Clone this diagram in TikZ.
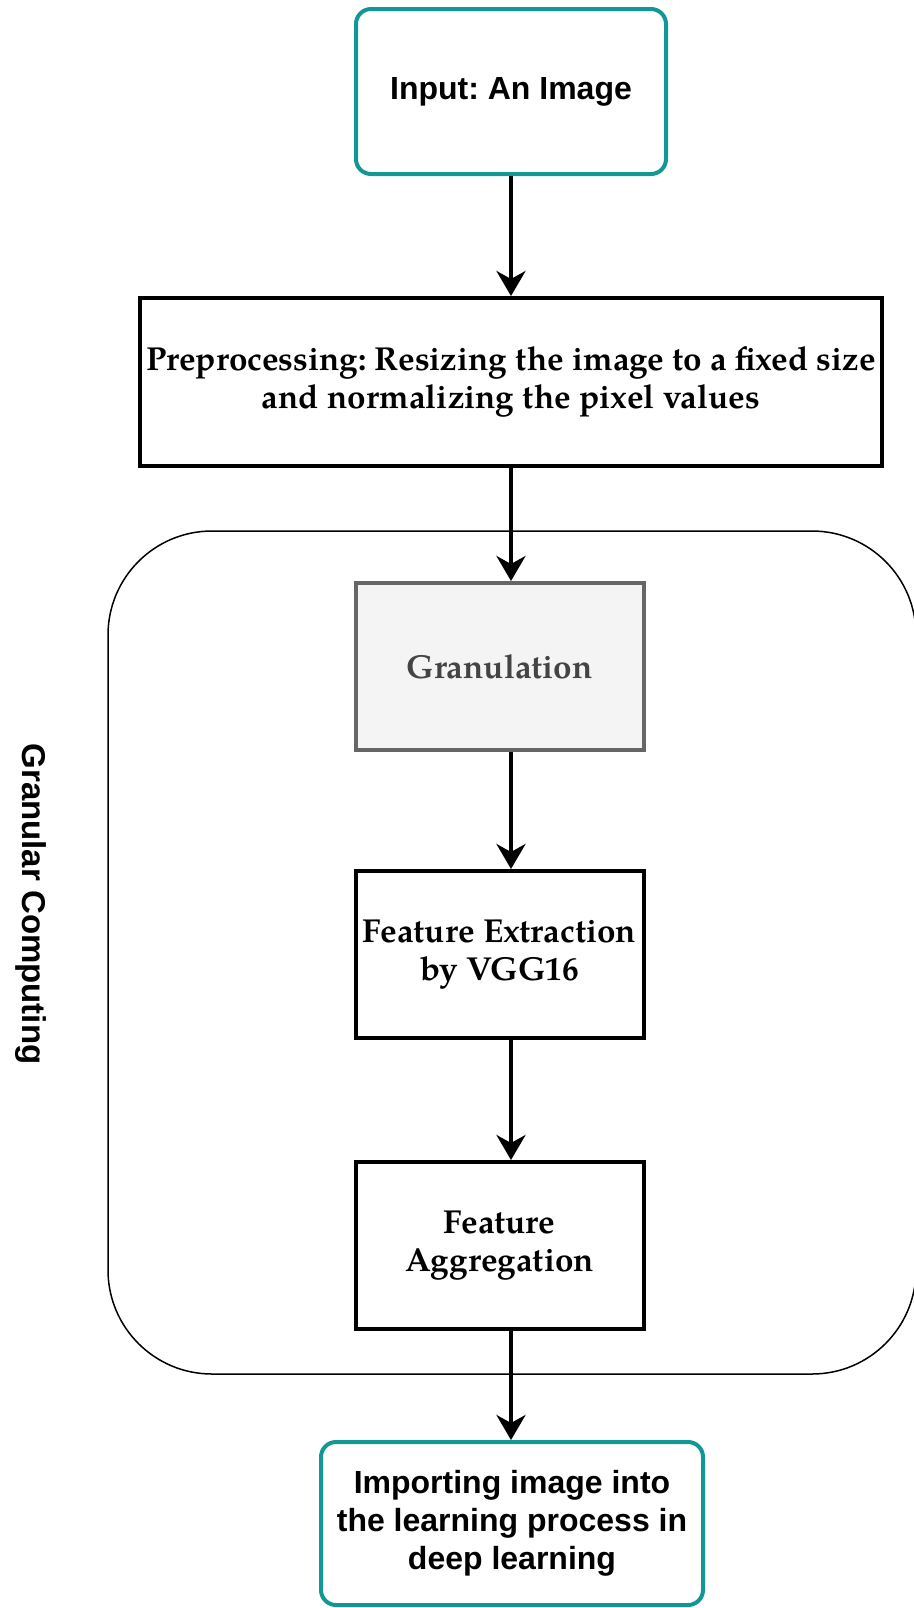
\documentclass[tikz,border=0pt]{standalone}
\usepackage{fontspec}
\usepackage{tikz}
\usetikzlibrary{arrows.meta, calc, positioning}
\usepackage{xcolor}
\newfontfamily\boxsans{Liberation Sans}
\newfontfamily\boxserif{texgyrepagella-bold.otf}
\definecolor{BoxTeal}{RGB}{18, 150, 150}
\definecolor{RichBlack}{RGB}{0, 0, 0}
\definecolor{GranFill}{RGB}{244, 244, 244}
\definecolor{GranDraw}{RGB}{102, 102, 102}
\definecolor{GranText}{RGB}{68, 68, 68}
\frenchspacing
\tikzset{%
  io_block/.style={%
    rectangle,%
    rounded corners=7.5pt,%
    draw=BoxTeal,%
    line width=2pt,%
    minimum width=155pt,%
    minimum height=82.5pt,%
    font={\boxsans\bfseries\fontsize{16}{19}\selectfont},%
    align=center%
  },
  step_block/.style={%
    rectangle,%
    draw=RichBlack,%
    line width=2pt,%
    minimum width=144pt,%
    minimum height=83.5pt,%
    font={\boxserif\fontsize{16.6}{19}\selectfont},%
    align=center%
  },
  gran_block/.style={%
    step_block,%
    draw=GranDraw,%
    fill=GranFill,%
    text=GranText%
  },
  group_frame/.style={%
    rectangle,%
    rounded corners=52pt,%
    draw=RichBlack,%
    line width=0.75pt%
  },
  group_label/.style={%
    font={\boxsans\bfseries\fontsize{16.5}{19}\selectfont},%
    rotate=-90%
  },
  flow/.style={%
    color=RichBlack,%
    line width=2pt,%
    -{Stealth[length=12.5pt, width=14.5pt, inset=4pt]}%
  },
}
\begin{document}
\begin{tikzpicture}[x=0.5pt, y=-0.5pt]
  \useasboundingbox (0,0) rectangle (914,1608);

  % granular computing group
  \node [group_frame, minimum width=404pt, minimum height=421.5pt] (gc_frame) at (512,952.5) {};
  \node [group_label] (gc_label) at (31,904) {Granular Computing};

  \node [io_block] (input) at (511,91.5) {Input: An Image};
  \node [step_block, minimum width=370pt, minimum height=84pt, below = 60pt of input] (prep)
    {Preprocessing: Resizing the image to a fixed size\\and normalizing the pixel values};
  \node [gran_block] (gran) at (499.5,666.5) {Granulation};
  \node [step_block, below = 58.5pt of gran] (extract) {Feature Extraction\\by VGG16};
  \node [step_block, below = 60pt of extract] (aggregate) {Feature\\Aggregation};
  \node [io_block, minimum width=191pt, minimum height=81.5pt] (output) at (512,1523.5)
    {Importing image into\\the learning process in\\deep learning};

  \draw [flow] (input) -- (prep);
  \draw [flow] (prep.south) -- (prep.south |- gran.north);
  \draw [flow] (gran.south -| prep.south) -- (prep.south |- extract.north);
  \draw [flow] (extract.south -| prep.south) -- (prep.south |- aggregate.north);
  \draw [flow] (aggregate.south -| prep.south) -- (prep.south |- output.north);
\end{tikzpicture}
\end{document}
